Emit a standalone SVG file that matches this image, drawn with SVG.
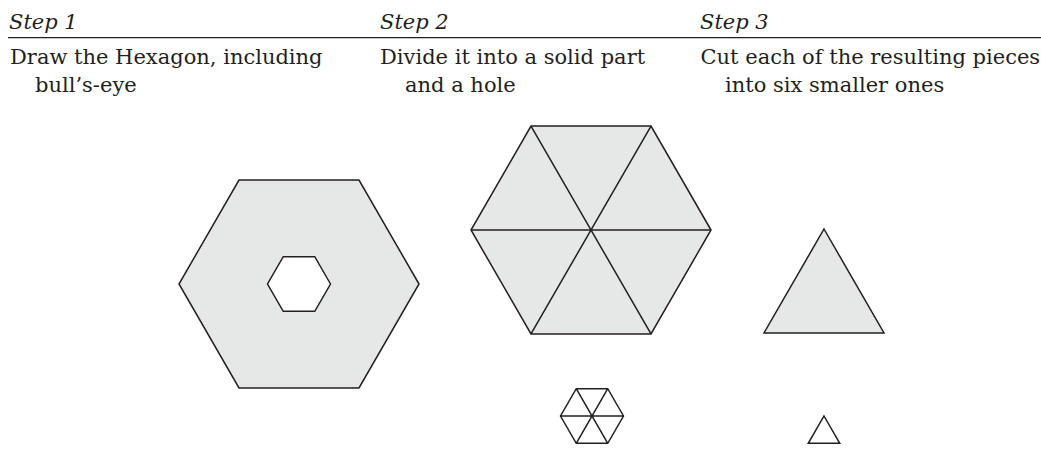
<svg xmlns="http://www.w3.org/2000/svg" width="1041" height="451" viewBox="0 0 1041 451">
<style>
.t{font-family:"DejaVu Serif","Liberation Serif",serif;font-size:21px;fill:#231f20}
.h{font-style:italic}
.s{stroke:#231f20;stroke-width:1.5;stroke-linejoin:miter;fill:#e6e7e7}
.o{stroke:#231f20;stroke-width:1.5;fill:none}
</style>
<rect width="1041" height="451" fill="#ffffff"/>
<g id="header">
<text class="t h" x="9" y="29">Step 1</text>
<text class="t h" x="380" y="29">Step 2</text>
<text class="t h" x="700" y="29">Step 3</text>
<line x1="8" y1="37.7" x2="1041" y2="37.7" stroke="#231f20" stroke-width="1.3"/>
</g>
<g id="step1-text">
<text class="t" x="10" y="64">Draw the Hexagon, including</text>
<text class="t" x="35" y="92">bull’s-eye</text>
</g>
<g id="step2-text">
<text class="t" x="380" y="64">Divide it into a solid part</text>
<text class="t" x="405" y="92">and a hole</text>
</g>
<g id="step3-text">
<text class="t" x="700.5" y="64">Cut each of the resulting pieces</text>
<text class="t" x="725" y="92">into six smaller ones</text>
</g>
<g id="hexagon-bullseye">
<path class="s" fill-rule="evenodd" d="M419,284 L359,180.1 L239,180.1 L179,284 L239,387.9 L359,387.9 Z M330.5,284 L314.75,256.7 L283.25,256.7 L267.5,284 L283.25,311.3 L314.75,311.3 Z"/>
</g>
<g id="hexagon-divided">
<path class="s" d="M711,230 L651,126.1 L531,126.1 L471,230 L531,333.9 L651,333.9 Z"/>
<path class="o" d="M471,230 L711,230 M531,126.1 L651,333.9 M651,126.1 L531,333.9"/>
</g>
<g id="hole-divided">
<path class="o" d="M623.5,416 L607.75,388.7 L576.25,388.7 L560.5,416 L576.25,443.3 L607.75,443.3 Z M560.5,416 L623.5,416 M576.25,388.7 L607.75,443.3 M607.75,388.7 L576.25,443.3"/>
</g>
<g id="solid-piece">
<path class="s" d="M824,229 L884,333 L764,333 Z"/>
</g>
<g id="hole-piece">
<path class="o" d="M824,416 L839.75,443.3 L808.25,443.3 Z"/>
</g>
</svg>
